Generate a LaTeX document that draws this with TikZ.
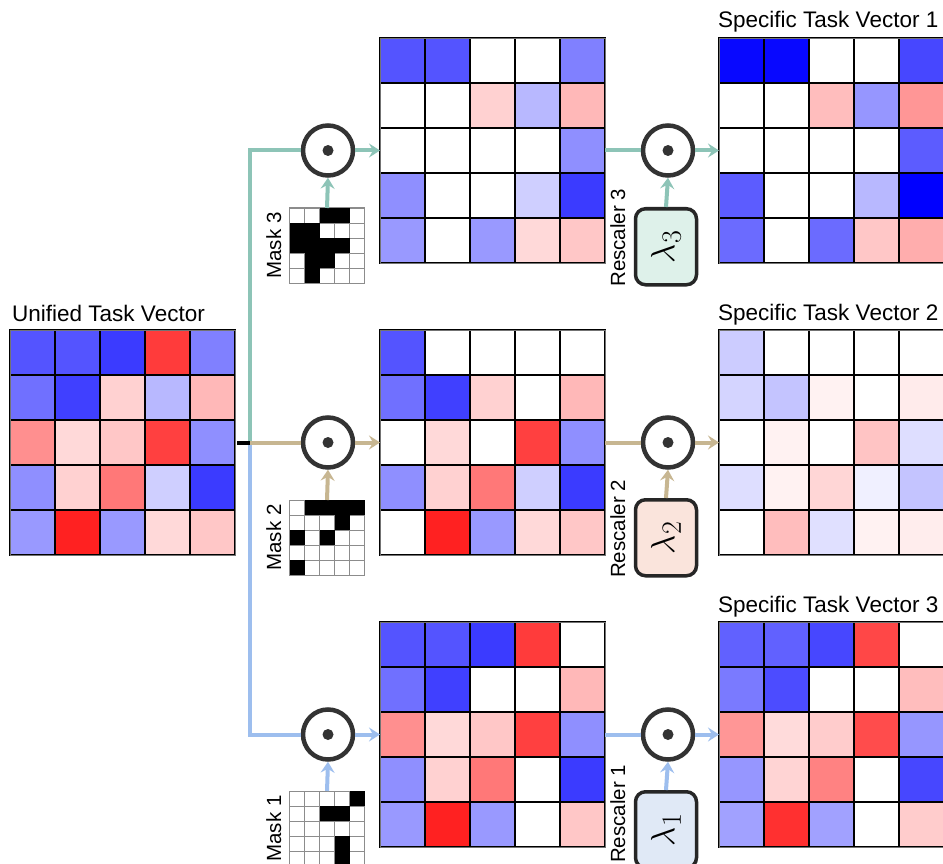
\documentclass[tikz,border=0pt]{standalone}
\usepackage{fontspec}
\setmainfont{Liberation Sans}
\usetikzlibrary{arrows.meta}
\definecolor{lnteal}{RGB}{141,196,183}
\definecolor{lntan}{RGB}{199,182,145}
\definecolor{lnblue}{RGB}{157,190,238}
\definecolor{bxmint}{RGB}{222,241,234}
\definecolor{bxpeach}{RGB}{250,228,220}
\definecolor{bxice}{RGB}{224,233,246}
\def\UVals{{-67,-67,-77,77,-50, -56,-75,18,-28,28, 44,15,22,75,-44, -44,18,53,-19,-77, -40,87,-40,15,22}}
\def\MskZero{{0,0,0,0,0, 0,0,0,0,0, 0,0,0,0,0, 0,0,0,0,0, 0,0,0,0,0}}
\def\MskA{{0,0,0,0,1, 0,0,1,1,0, 0,0,0,0,0, 0,0,0,1,0, 0,0,0,1,0}}
\def\MskB{{0,1,1,1,1, 0,0,0,1,0, 1,0,1,0,0, 0,0,0,0,0, 1,0,0,0,0}}
\def\MskC{{0,0,1,1,0, 1,1,0,0,0, 1,1,1,1,0, 0,1,1,0,0, 0,1,0,0,0}}
% #1 name, #2 x, #3 y (top), #4 mask, #5 lambda
\newcommand\heatmat[5]{%
  \node[inner sep=0, outer sep=0, minimum width=225, minimum height=225, anchor=north west] (#1) at (#2,#3) {};
  \foreach \k in {0,...,24}{
    \pgfmathtruncatemacro\hmrow{int(\k/5)}
    \pgfmathtruncatemacro\hmcol{mod(\k,5)}
    \pgfmathtruncatemacro\hmval{max(-100,min(100,round(\UVals[\k]*(1-#4[\k])*#5)))}
    \pgfmathsetmacro\hmx{#2+\hmcol*45}
    \pgfmathsetmacro\hmy{#3+\hmrow*45}
    \ifnum\hmval<0
      \pgfmathtruncatemacro\hmabs{-\hmval}
      \def\hmfill{blue!\hmabs!white}
    \else
      \def\hmfill{red!\hmval!white}
    \fi
    \filldraw[fill=\hmfill, draw=black, line width=1.4] (\hmx,\hmy) rectangle ++(45,45);
  }
  \draw[black!55, line width=0.8] (#1.north west) rectangle (#1.south east);
}
% #1 name, #2 x centre, #3 y top, #4 mask
\newcommand\maskgrid[4]{%
  \node[inner sep=0, outer sep=0, minimum size=75, anchor=north, fill=white] (#1) at (#2,#3) {};
  \foreach \k in {0,...,24}{
    \pgfmathtruncatemacro\mgrow{int(\k/5)}
    \pgfmathtruncatemacro\mgcol{mod(\k,5)}
    \pgfmathsetmacro\mgx{#2-37.5+\mgcol*15}
    \pgfmathsetmacro\mgy{#3+\mgrow*15}
    \draw[black!45, line width=1] (\mgx,\mgy) rectangle ++(15,15);
  }
  \foreach \k in {0,...,24}{
    \pgfmathtruncatemacro\mgrow{int(\k/5)}
    \pgfmathtruncatemacro\mgcol{mod(\k,5)}
    \pgfmathtruncatemacro\mgon{#4[\k]}
    \pgfmathsetmacro\mgx{#2-37.5+\mgcol*15}
    \pgfmathsetmacro\mgy{#3+\mgrow*15}
    \ifnum\mgon=1
      \fill[black] (\mgx,\mgy) rectangle ++(15,15);
    \fi
  }
}
\tikzset{
  conn/.style={line width=4},
  arr/.style={conn, -{Stealth[length=11pt,width=14pt,inset=4pt]}},
  odot/.style={circle, draw=black!80, line width=4.5, minimum size=50, inner sep=0, fill=white},
  rbox/.style={draw=black!85, line width=3.5, rounded corners=10, minimum width=61, minimum height=76, inner sep=0, anchor=north},
  ttl/.style={font=\fontsize{22.5}{27}\selectfont, anchor=base west, inner sep=0},
  rlbl/.style={font=\fontsize{20.5}{24}\selectfont, rotate=90, inner sep=0},
  lam/.style={font=\fontsize{24.88}{30}\selectfont, rotate=90, inner sep=0, scale=1.35, transform shape}
}
\begin{document}
\begin{tikzpicture}[x=1pt,y=-1pt]
\useasboundingbox (0,0) rectangle (943,864);
\clip (0,0) rectangle (943,864);
\fill[white] (0,0) rectangle (943,864);

% titles
\node[ttl] (tu) at (12,321) {Unified Task Vector};
\node[ttl] (t1) at (718,28) {Specific Task Vector 1};
\node[ttl] (t2) at (718,320) {Specific Task Vector 2};
\node[ttl] (t3) at (718,612) {Specific Task Vector 3};

% matrices
\heatmat{um}{10}{330}{\MskZero}{1}
\heatmat{m3}{380}{38}{\MskC}{1}
\heatmat{m2}{380}{330}{\MskB}{1}
\heatmat{m1}{380}{622}{\MskA}{1}
\heatmat{s1}{719}{38}{\MskC}{1.45}
\heatmat{s2}{719}{330}{\MskB}{0.3}
\heatmat{s3}{719}{622}{\MskA}{0.93}

% masks
\maskgrid{k3}{327}{208}{\MskC}
\maskgrid{k2}{327}{500}{\MskB}
\maskgrid{k1}{327}{791}{\MskA}
\node[rlbl, anchor=base] (kl3) at (281,245.5) {Mask 3};
\node[rlbl, anchor=base] (kl2) at (281,537.5) {Mask 2};
\node[rlbl, anchor=base] (kl1) at (281,828.5) {Mask 1};

% odot nodes
\node[odot] (c3) at (328,150.5) {};
\node[odot] (c2) at (328,442.5) {};
\node[odot] (c1) at (328,734.5) {};
\node[odot] (r3) at (668,150.5) {};
\node[odot] (r2) at (668,442.5) {};
\node[odot] (r1) at (668,734.5) {};
\foreach \n in {c3,c2,c1,r3,r2,r1}{\fill[black!80] (\n.center) circle (5.5);}

% rescaler boxes
\node[rbox, fill=bxmint] (b3) at (666,207) {};
\node[rbox, fill=bxpeach] (b2) at (666,498) {};
\node[rbox, fill=bxice] (b1) at (666,790) {};
\node[lam] (l3) at (b3.center) {$\lambda_3$};
\node[lam] (l2) at (b2.center) {$\lambda_2$};
\node[lam] (l1) at (b1.center) {$\lambda_1$};
\node[rlbl, anchor=base west] (rl3) at (625,287) {Rescaler 3};
\node[rlbl, anchor=base west] (rl2) at (625,578) {Rescaler 2};
\node[rlbl, anchor=base west] (rl1) at (625,863) {Rescaler 1};

% connectors
\coordinate (j) at (250,442.5);
\draw[conn, lnblue] (j) |- (c1.west);
\draw[conn, lnteal] (j) |- (c3.west);
\draw[conn, lntan] (j) -- (c2.west);
\draw[conn, black] (um.east |- j) ++(2,0) -- (j);

\draw[arr, lnteal] (c3.east) -- (m3.west);
\draw[arr, lntan] (c2.east) -- (m2.west);
\draw[arr, lnblue] (c1.east) -- (m1.west);
\draw[arr, lnteal] (k3.north) -- (c3.south);
\draw[arr, lntan] (k2.north) -- (c2.south);
\draw[arr, lnblue] (k1.north) -- (c1.south);

\draw[conn, lnteal] (m3.east) -- (r3.west);
\draw[conn, lntan] (m2.east) -- (r2.west);
\draw[conn, lnblue] (m1.east) -- (r1.west);
\draw[arr, lnteal] (r3.east) -- (s1.west);
\draw[arr, lntan] (r2.east) -- (s2.west);
\draw[arr, lnblue] (r1.east) -- (s3.west);
\draw[arr, lnteal] (b3.north) -- (r3.south);
\draw[arr, lntan] (b2.north) -- (r2.south);
\draw[arr, lnblue] (b1.north) -- (r1.south);
\end{tikzpicture}
\end{document}
